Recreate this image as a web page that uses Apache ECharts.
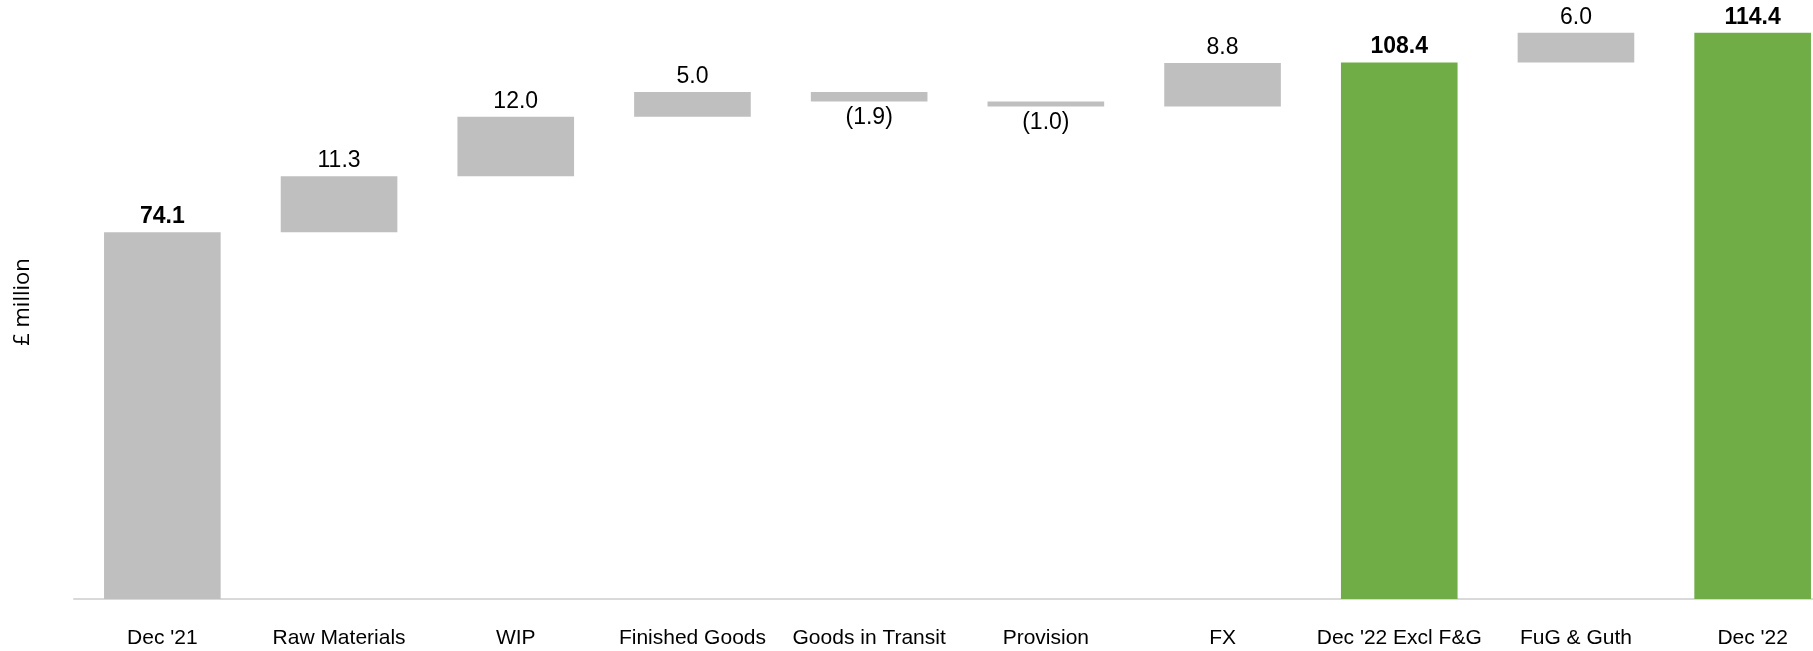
<!DOCTYPE html>
<html>
<head>
<meta charset="utf-8">
<script src="https://cdn.jsdelivr.net/npm/echarts@6/dist/echarts.min.js"></script>
<style>
html,body{margin:0;padding:0;background:#fff;overflow:hidden;width:1813px;height:651px;}
#chart{width:1841px;height:651px;}
</style>
</head>
<body>
<div id="chart"></div>
<script>
const categories = ["Dec '21","Raw Materials","WIP","Finished Goods","Goods in Transit","Provision","FX","Dec '22 Excl F&G","FuG & Guth","Dec '22"];
const values = [74.1, 11.3, 12.0, 5.0, -1.9, -1.0, 8.8, 108.4, 6.0, 114.4];
const isTotal = [true, false, false, false, false, false, false, true, false, true];

const GREY = '#BFBFBF';
const GREEN = '#70AD47';
const FONT = '"Liberation Sans", Arial, sans-serif';

let running = 0;
const baseData = [];
const barData = [];
values.forEach((v, i) => {
  if (isTotal[i]) {
    baseData.push(0);
    running = v;
    barData.push({
      value: v,
      itemStyle: { color: (i === 0) ? GREY : GREEN },
      label: { show: true, position: 'top', distance: 4, fontWeight: 'bold', formatter: v.toFixed(1) }
    });
  } else {
    if (v >= 0) {
      baseData.push(running);
      barData.push({
        value: v,
        itemStyle: { color: GREY },
        label: { show: true, position: 'top', distance: 4, fontWeight: 'normal', formatter: v.toFixed(1) }
      });
    } else {
      baseData.push(running + v);
      barData.push({
        value: -v,
        itemStyle: { color: GREY },
        label: { show: true, position: 'bottom', distance: 5, fontWeight: 'normal', formatter: '(' + (-v).toFixed(1) + ')' }
      });
    }
    running += v;
  }
});

const chart = echarts.init(document.getElementById('chart'), null, { renderer: 'canvas' });
chart.setOption({
  animation: false,
  grid: { left: 74, right: 0, top: 5, bottom: 52 },
  xAxis: {
    type: 'category',
    data: categories,
    axisLine: { show: true, lineStyle: { color: '#D9D9D9', width: 2 } },
    axisTick: { show: false },
    axisLabel: { interval: 0, margin: 29, fontSize: 21, color: '#000', fontFamily: FONT }
  },
  yAxis: {
    type: 'value',
    min: 0,
    max: 120,
    interval: 20,
    splitLine: { show: false },
    axisLine: { show: false },
    axisTick: { show: false },
    axisLabel: { show: false },
    name: '£ million',
    nameLocation: 'middle',
    nameRotate: 90,
    nameGap: 40,
    nameTextStyle: { fontSize: 22, color: '#000', fontFamily: '"Open Sans", "Noto Sans", sans-serif' }
  },
  series: [
    {
      type: 'bar',
      stack: 'w',
      data: baseData,
      itemStyle: { color: 'transparent' },
      barWidth: '66%',
      silent: true
    },
    {
      type: 'bar',
      stack: 'w',
      data: barData,
      barWidth: '66%',
      label: { fontSize: 23, color: '#000', fontFamily: FONT }
    }
  ]
});
</script>
</body>
</html>
